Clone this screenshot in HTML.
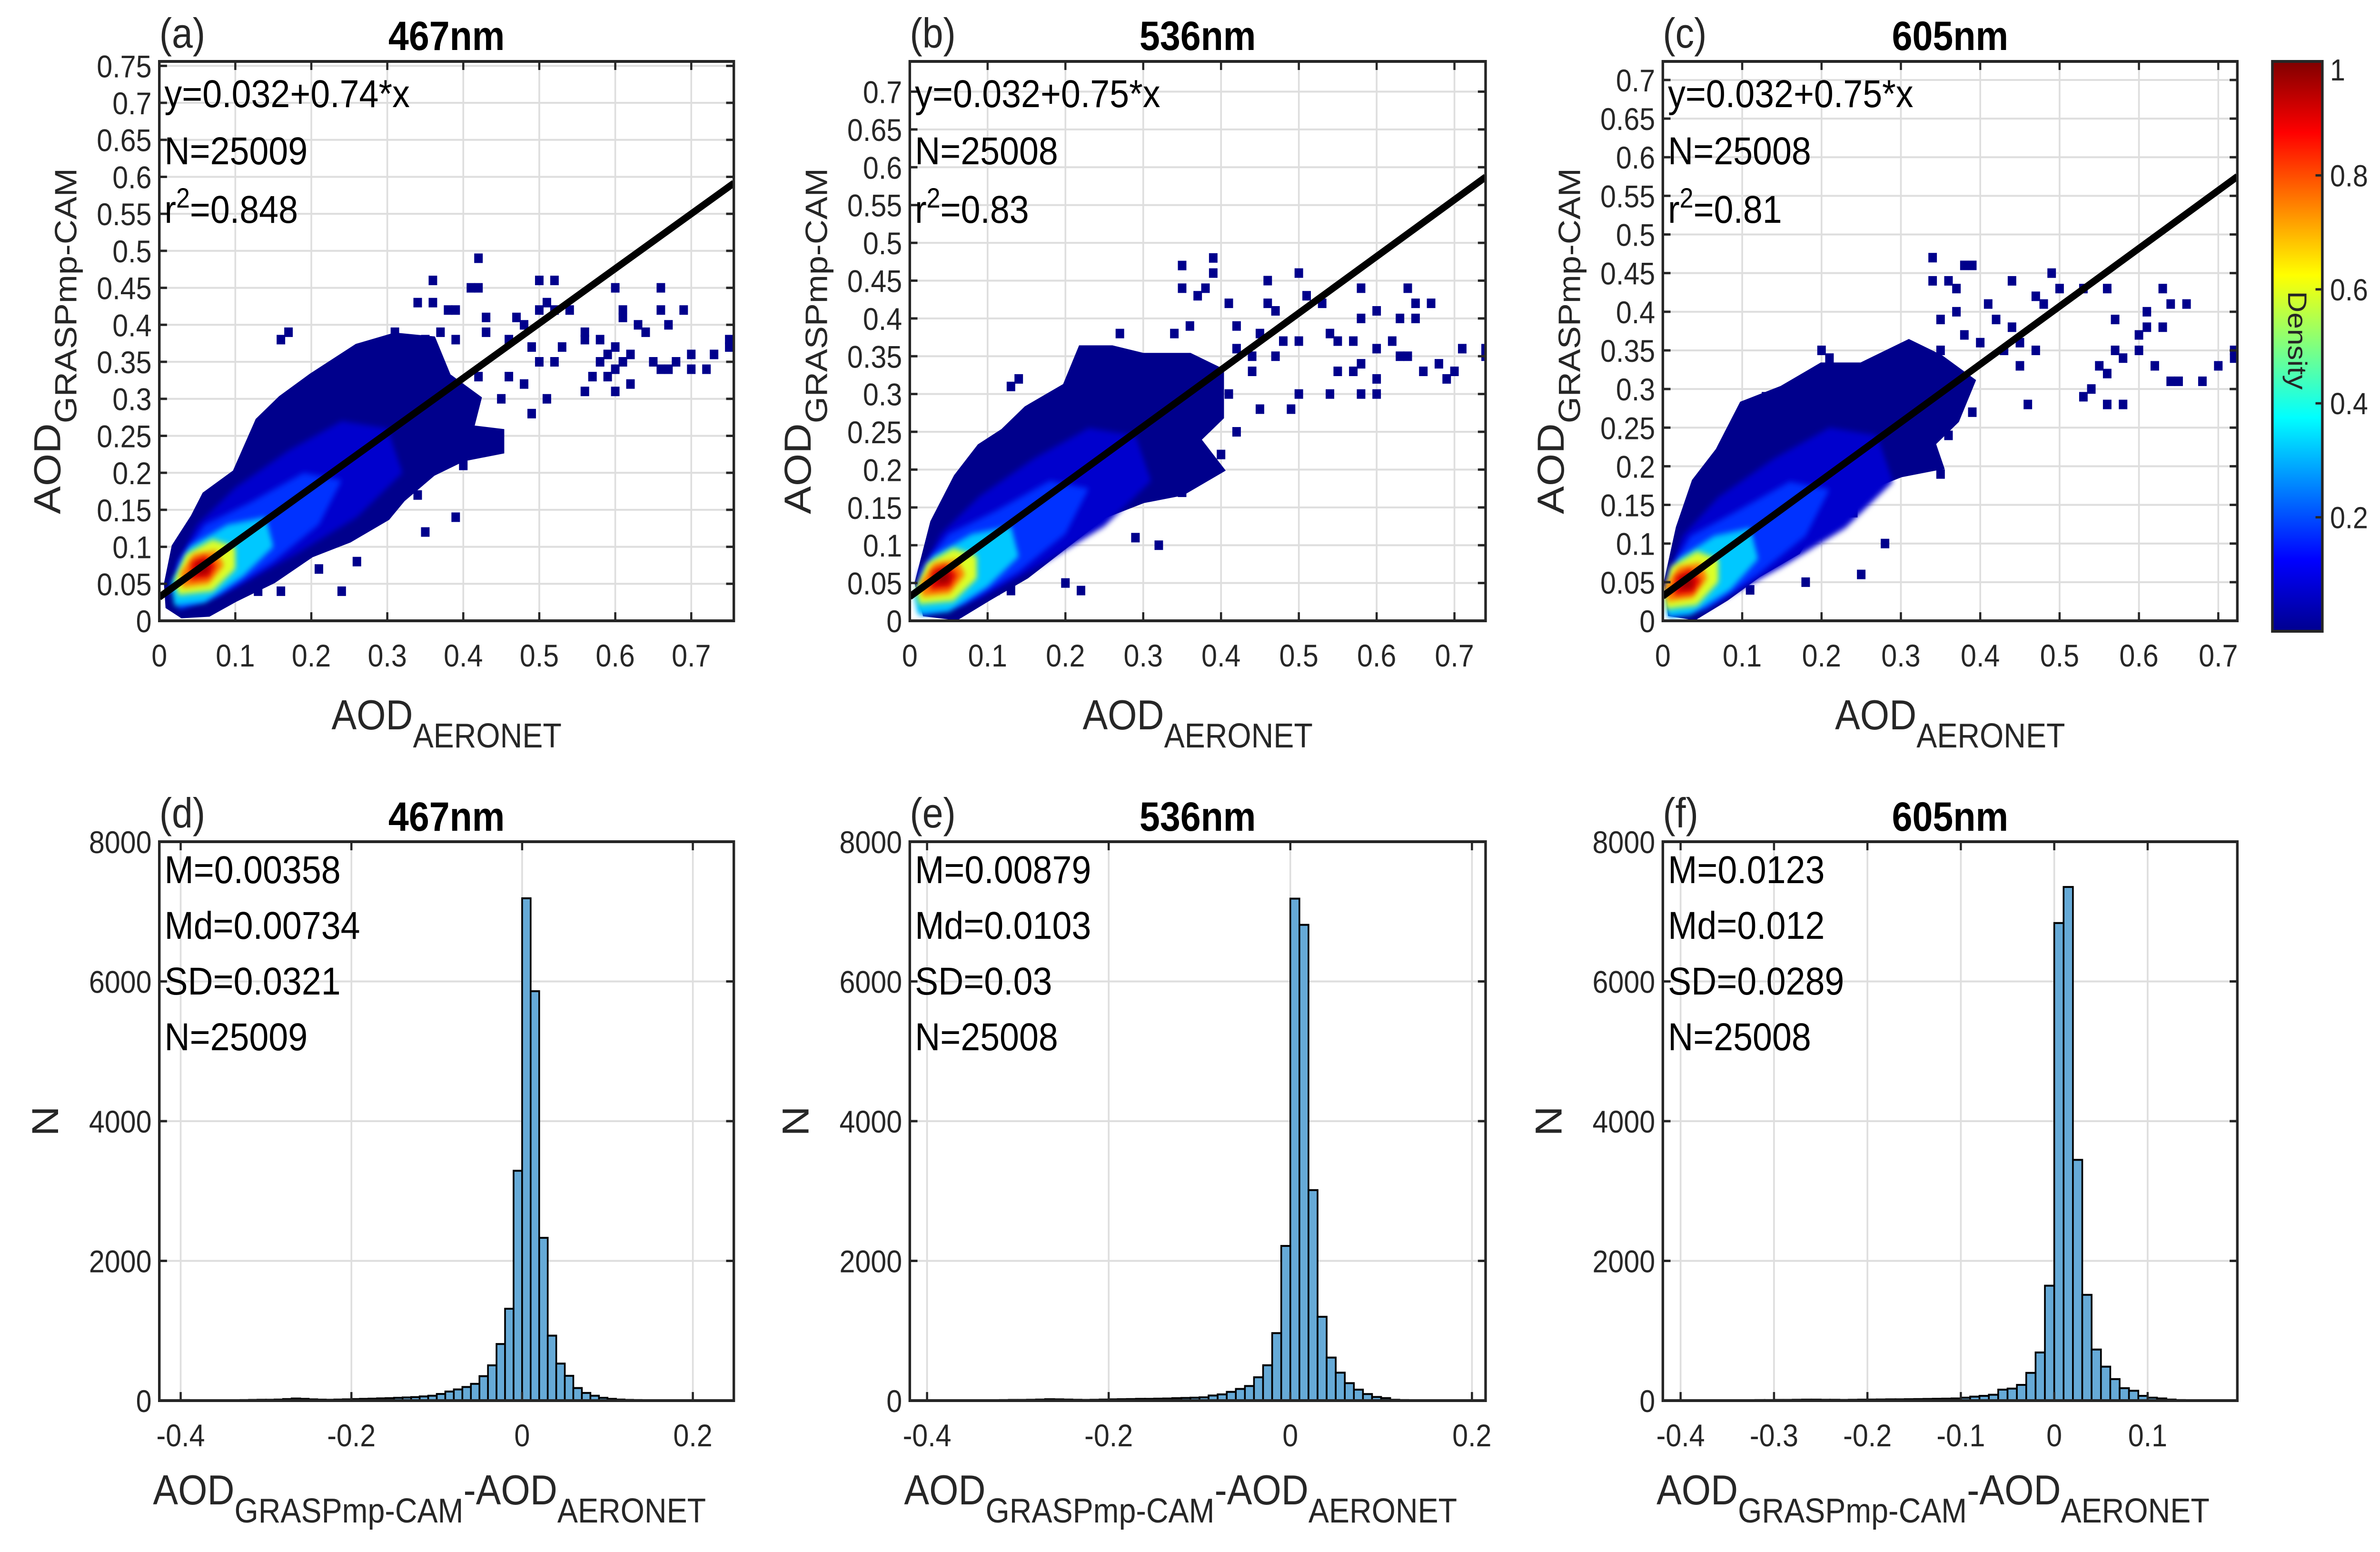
<!DOCTYPE html>
<html><head><meta charset="utf-8"><style>
html,body{margin:0;padding:0;background:#fff;overflow:hidden;width:100%;height:100%;}
svg{display:block;width:100vw;height:100vh;font-family:"Liberation Sans",Arial,sans-serif;}
</style></head><body>
<svg id="fig" xmlns="http://www.w3.org/2000/svg" viewBox="0 0 5572 3260" preserveAspectRatio="none" overflow="hidden">
<defs>
<filter id="soft" x="-20%" y="-20%" width="140%" height="140%"><feGaussianBlur stdDeviation="6"/></filter>
<linearGradient id="jet" x1="0" y1="1" x2="0" y2="0">
<stop offset="0" stop-color="#00008f"/><stop offset="0.125" stop-color="#0000ff"/><stop offset="0.375" stop-color="#00ffff"/><stop offset="0.625" stop-color="#ffff00"/><stop offset="0.875" stop-color="#ff0000"/><stop offset="1" stop-color="#800000"/>
</linearGradient>
</defs>
</svg>
<script>
// ---------- data ----------
const panelLetters = ['(a)','(b)','(c)'];
const histLetters = ['(d)','(e)','(f)'];
const wavelengths = ['467nm','536nm','605nm'];
const fitIntercepts = [0.032,0.032,0.032];
const fitSlopes = [0.74,0.75,0.75];
const fitLabels = ['y=0.032+0.74*x','y=0.032+0.75*x','y=0.032+0.75*x'];
const scatterN = ['N=25009','N=25008','N=25008'];
const r2Values = ['0.848','0.83','0.81'];
const scatterMax = [0.756,0.74,0.724];
const yTicksA = [0,0.05,0.1,0.15,0.2,0.25,0.3,0.35,0.4,0.45,0.5,0.55,0.6,0.65,0.7,0.75];
const yTicksBC = [0,0.05,0.1,0.15,0.2,0.25,0.3,0.35,0.4,0.45,0.5,0.55,0.6,0.65,0.7];
const xTicksScatter = [0,0.1,0.2,0.3,0.4,0.5,0.6,0.7];

// density layers (navy envelope -> dark red core), data units
const layerColors = ['#00008c','#0000cd','#0032ff','#00c8ff','#dcff28','#ff7800','#dc0000','#960000'];
const layersA = [
 [[0.012,0.02],[0.03,0.008],[0.065,0.01],[0.1,0.03],[0.15,0.055],[0.2,0.09],[0.25,0.11],[0.3,0.14],[0.32,0.165],[0.36,0.2],[0.4,0.22],[0.45,0.23],[0.45,0.255],[0.41,0.26],[0.42,0.3],[0.38,0.33],[0.36,0.38],[0.31,0.385],[0.26,0.37],[0.2,0.33],[0.16,0.3],[0.13,0.27],[0.1,0.2],[0.06,0.17],[0.045,0.14],[0.02,0.1],[0.01,0.05]],
 [[0.03,0.02],[0.1,0.045],[0.18,0.09],[0.26,0.14],[0.32,0.2],[0.3,0.26],[0.24,0.27],[0.17,0.23],[0.1,0.18],[0.05,0.13],[0.02,0.07]],
 [[0.025,0.015],[0.08,0.035],[0.15,0.08],[0.21,0.13],[0.24,0.19],[0.19,0.2],[0.12,0.16],[0.06,0.13],[0.025,0.08]],
 [[0.02,0.02],[0.06,0.025],[0.11,0.06],[0.15,0.1],[0.14,0.14],[0.09,0.13],[0.04,0.1],[0.015,0.05]],
 [[0.025,0.035],[0.07,0.04],[0.1,0.07],[0.1,0.1],[0.07,0.11],[0.035,0.09],[0.02,0.055]],
 [[0.03,0.045],[0.065,0.05],[0.085,0.075],[0.075,0.095],[0.045,0.09],[0.028,0.065]],
 [[0.04,0.055],[0.065,0.058],[0.075,0.075],[0.06,0.088],[0.042,0.08]],
 [[0.05,0.063],[0.065,0.066],[0.063,0.08],[0.05,0.078]]
];
const layersB = [
 [[0.02,0.01],[0.06,0.005],[0.1,0.03],[0.15,0.06],[0.2,0.1],[0.25,0.14],[0.3,0.16],[0.35,0.17],[0.4,0.2],[0.37,0.24],[0.4,0.27],[0.4,0.33],[0.36,0.35],[0.3,0.35],[0.26,0.36],[0.22,0.36],[0.2,0.31],[0.15,0.28],[0.12,0.25],[0.09,0.23],[0.06,0.19],[0.03,0.13],[0.01,0.05]],
 [[0.02,0.01],[0.09,0.03],[0.17,0.075],[0.25,0.125],[0.31,0.185],[0.29,0.245],[0.23,0.255],[0.16,0.215],[0.09,0.165],[0.04,0.115],[0.01,0.055]],
 [[0.015,0.008],[0.07,0.022],[0.14,0.065],[0.2,0.115],[0.23,0.175],[0.18,0.185],[0.11,0.145],[0.05,0.115],[0.012,0.065]],
 [[0.01,0.008],[0.05,0.012],[0.1,0.045],[0.14,0.085],[0.13,0.125],[0.08,0.115],[0.03,0.085],[0.005,0.035]],
 [[0.012,0.022],[0.056,0.026],[0.086,0.056],[0.086,0.086],[0.056,0.096],[0.022,0.076],[0.008,0.042]],
 [[0.016,0.032],[0.051,0.036],[0.071,0.061],[0.061,0.081],[0.031,0.076],[0.014,0.051]],
 [[0.026,0.041],[0.051,0.044],[0.061,0.061],[0.046,0.074],[0.028,0.066]],
 [[0.036,0.049],[0.051,0.052],[0.049,0.066],[0.036,0.064]]
];
const layersC = [
 [[0.01,0.01],[0.04,0.005],[0.08,0.03],[0.12,0.06],[0.17,0.09],[0.2,0.14],[0.25,0.17],[0.3,0.19],[0.35,0.2],[0.34,0.23],[0.37,0.26],[0.39,0.31],[0.35,0.34],[0.31,0.36],[0.25,0.33],[0.2,0.33],[0.15,0.3],[0.1,0.28],[0.07,0.22],[0.04,0.18],[0.02,0.12],[0.005,0.05]],
 [[0.01,0.01],[0.07,0.025],[0.15,0.07],[0.23,0.12],[0.29,0.18],[0.27,0.24],[0.21,0.25],[0.14,0.21],[0.07,0.16],[0.025,0.11],[0.005,0.05]],
 [[0.008,0.005],[0.055,0.015],[0.12,0.06],[0.18,0.11],[0.21,0.17],[0.16,0.18],[0.09,0.14],[0.035,0.11],[0.006,0.06]],
 [[0.006,0.005],[0.035,0.008],[0.085,0.04],[0.12,0.08],[0.11,0.12],[0.065,0.11],[0.02,0.08],[0.003,0.03]],
 [[0.004,0.015],[0.043,0.02],[0.07,0.05],[0.07,0.08],[0.043,0.09],[0.01,0.07],[0.002,0.035]],
 [[0.006,0.025],[0.038,0.03],[0.056,0.055],[0.048,0.075],[0.02,0.07],[0.003,0.045]],
 [[0.014,0.033],[0.038,0.036],[0.048,0.053],[0.034,0.067],[0.016,0.058]],
 [[0.023,0.041],[0.038,0.044],[0.036,0.058],[0.023,0.056]]
];
const outliersAx = [0.42,0.36,0.41,0.42,0.5,0.52,0.5,0.51,0.52,0.54,0.36,0.34,0.38,0.39,0.43,0.43,0.39,0.37,0.35,0.31,0.31,0.17,0.16,0.6,0.61,0.61,0.66,0.66,0.69,0.67,0.63,0.64,0.56,0.58,0.6,0.59,0.62,0.61,0.58,0.6,0.57,0.59,0.56,0.62,0.6,0.65,0.66,0.67,0.68,0.7,0.7,0.72,0.73,0.75,0.75,0.47,0.48,0.46,0.49,0.5,0.53,0.52,0.56,0.48,0.49,0.51,0.44,0.42,0.4,0.39,0.35,0.34,0.26,0.24,0.21,0.16,0.13,0.26,0.45,0.42,0.46];
const outliersAy = [0.49,0.46,0.45,0.45,0.46,0.46,0.42,0.43,0.42,0.42,0.43,0.43,0.42,0.42,0.41,0.39,0.38,0.39,0.38,0.39,0.38,0.39,0.38,0.45,0.41,0.42,0.45,0.42,0.42,0.4,0.4,0.39,0.38,0.38,0.37,0.36,0.36,0.35,0.35,0.34,0.33,0.33,0.31,0.32,0.31,0.35,0.34,0.34,0.35,0.36,0.34,0.34,0.36,0.37,0.38,0.41,0.4,0.38,0.37,0.35,0.37,0.35,0.39,0.32,0.28,0.3,0.24,0.24,0.21,0.14,0.12,0.17,0.08,0.04,0.07,0.04,0.04,0.13,0.3,0.33,0.33];
const outliersBx = [0.35,0.39,0.39,0.35,0.38,0.37,0.41,0.46,0.5,0.51,0.53,0.46,0.47,0.58,0.64,0.65,0.6,0.67,0.58,0.63,0.65,0.54,0.55,0.57,0.6,0.62,0.63,0.58,0.55,0.57,0.6,0.54,0.58,0.6,0.64,0.66,0.68,0.7,0.71,0.74,0.74,0.69,0.5,0.49,0.44,0.47,0.42,0.45,0.48,0.5,0.44,0.41,0.42,0.36,0.34,0.27,0.14,0.13,0.2,0.32,0.29,0.11,0.22,0.13,0.18,0.22,0.33,0.35,0.36,0.4,0.42,0.45];
const outliersBy = [0.47,0.48,0.46,0.44,0.44,0.43,0.42,0.45,0.46,0.43,0.42,0.42,0.41,0.44,0.44,0.42,0.41,0.42,0.4,0.4,0.4,0.38,0.37,0.37,0.36,0.37,0.35,0.34,0.33,0.33,0.32,0.3,0.3,0.3,0.35,0.33,0.34,0.33,0.36,0.36,0.35,0.32,0.3,0.28,0.35,0.35,0.39,0.38,0.37,0.37,0.33,0.3,0.36,0.39,0.38,0.38,0.32,0.31,0.05,0.1,0.11,0.04,0.04,0.04,0.11,0.13,0.17,0.17,0.2,0.22,0.25,0.28];
const outliersCx = [0.34,0.38,0.39,0.34,0.36,0.37,0.41,0.44,0.49,0.5,0.53,0.47,0.48,0.56,0.63,0.64,0.66,0.57,0.61,0.63,0.61,0.6,0.57,0.56,0.55,0.58,0.6,0.53,0.56,0.58,0.62,0.64,0.65,0.68,0.7,0.72,0.72,0.54,0.46,0.45,0.47,0.42,0.44,0.43,0.45,0.37,0.35,0.38,0.4,0.35,0.33,0.2,0.21,0.13,0.17,0.24,0.39,0.31,0.25,0.18,0.11,0.06,0.28,0.24,0.35,0.36];
const outliersCy = [0.47,0.46,0.46,0.44,0.44,0.43,0.41,0.44,0.45,0.43,0.43,0.42,0.41,0.43,0.43,0.41,0.41,0.39,0.4,0.38,0.38,0.37,0.35,0.32,0.33,0.34,0.35,0.29,0.28,0.28,0.33,0.31,0.31,0.31,0.33,0.35,0.34,0.3,0.28,0.36,0.35,0.39,0.38,0.35,0.33,0.4,0.39,0.37,0.36,0.35,0.34,0.35,0.34,0.29,0.29,0.27,0.27,0.28,0.06,0.05,0.04,0.03,0.1,0.14,0.19,0.24];

// histograms: bins of width 0.01 starting at -0.40
const histStart = -0.40;
const histBinWidth = 0.01;
const countsD = [8,6,5,4,5,6,5,8,10,12,12,15,22,30,25,18,14,12,15,18,22,25,28,32,35,40,45,50,60,70,95,130,160,195,240,350,505,810,1315,3290,7190,5860,2330,930,530,355,180,110,70,40,25,15,10,8,5,4,3,3,2,2,2,2,3];
const countsE = [6,5,4,4,5,5,6,6,8,10,10,12,15,20,18,15,12,10,12,15,18,20,22,25,25,28,30,35,38,42,47,73,89,125,167,209,334,506,966,2214,7185,6810,3013,1200,616,400,250,157,94,52,36,12,8,6,5,4,3,3,2,2];
const countsF = [5,4,4,4,5,5,6,6,8,8,10,10,12,14,14,12,12,10,12,14,15,16,18,18,20,22,24,26,28,31,42,57,68,84,157,172,225,397,689,1645,6836,7352,3446,1514,731,486,308,178,141,68,42,31,15,8,5,3,3,2,2];
const histM = ['M=0.00358','M=0.00879','M=0.0123'];
const histMd = ['Md=0.00734','Md=0.0103','Md=0.012'];
const histSD = ['SD=0.0321','SD=0.03','SD=0.0289'];
const histN = ['N=25009','N=25008','N=25008'];
const histXmin = [-0.425,-0.419,-0.419];
const histXmax = [0.248,0.215,0.196];
const histXTicksDE = [-0.4,-0.2,0,0.2];
const histXTicksF = [-0.4,-0.3,-0.2,-0.1,0,0.1];
const histYTicks = [0,2000,4000,6000,8000];
const cbTicks = [0.2,0.4,0.6,0.8,1];

// ---------- drawing ----------
const NS = 'http://www.w3.org/2000/svg';
const svg = document.getElementById('fig');
function mk(tag, parent, attrs){
  const el = document.createElementNS(NS, tag);
  for (const k in attrs) el.setAttribute(k, attrs[k]);
  parent.appendChild(el);
  return el;
}
function fmt(v){ return String(+v.toFixed(3)); }

const colsL = [373,2130,3893], colsR = [1718,3478,5238];
const sT = 129, sB = 1304, hT = 1768, hB = 2942;
const TXT = '#262626';

function frame(g, L, R, T, B, xt, yt, sx, sy, nameBase){
  xt.forEach(v => {
    const x = sx(v);
    const gl = mk('line', g, {x1:x, x2:x, y1:T, y2:B, stroke:'#dedede', 'stroke-width':4});
    
    
  });
  yt.forEach(v => {
    const y = sy(v);
    const gl = mk('line', g, {x1:L, x2:R, y1:y, y2:y, stroke:'#dedede', 'stroke-width':4});
    
    
  });
}
function axesBox(g, L, R, T, B, xt, yt, sx, sy, xlabels, ylabels, nameBase){
  const tl = 18;
  xt.forEach((v,i) => {
    const x = sx(v);
    mk('line', g, {x1:x, x2:x, y1:B, y2:B-tl, stroke:TXT, 'stroke-width':5});
    mk('line', g, {x1:x, x2:x, y1:T, y2:T+tl, stroke:TXT, 'stroke-width':5});
    const t = mk('text', g, {x:x, y:B+96, 'font-size':66, fill:TXT, 'text-anchor':'middle'});
    t.textContent = xlabels[i];
    
    
  });
  yt.forEach((v,i) => {
    const y = sy(v);
    mk('line', g, {x1:L, x2:L+tl, y1:y, y2:y, stroke:TXT, 'stroke-width':5});
    mk('line', g, {x1:R, x2:R-tl, y1:y, y2:y, stroke:TXT, 'stroke-width':5});
    const t = mk('text', g, {x:L-18, y:y+24, 'font-size':66, fill:TXT, 'text-anchor':'end'});
    t.textContent = ylabels[i];
    
    
  });
  const box = mk('rect', g, {x:L, y:T, width:R-L, height:B-T, fill:'none', stroke:TXT, 'stroke-width':6});
  
  
}
function label(g, x, y, size, str, name, extra){
  const t = mk('text', g, Object.assign({x:x, y:y, 'font-size':size, fill:'#000'}, extra||{}));
  t.textContent = str;
  
  
  return t;
}

const layerSets = [layersA, layersB, layersC];
const outX = [outliersAx, outliersBx, outliersCx];
const outY = [outliersAy, outliersBy, outliersCy];

for (let p = 0; p < 3; p++){
  const L = colsL[p], R = colsR[p], T = sT, B = sB, m = scatterMax[p];
  const sx = v => L + v / m * (R - L);
  const sy = v => B - v / m * (B - T);
  const g = mk('g', svg, {});
  
  
  const yt = p === 0 ? yTicksA : yTicksBC;
  frame(g, L, R, T, B, xTicksScatter, yt, sx, sy, 'scatter-' + 'abc'[p]);
  const clipId = 'clip' + p;
  const cp = mk('clipPath', g, {id:clipId});
  mk('rect', cp, {x:L, y:T, width:R-L, height:B-T});
  const plot = mk('g', g, {'clip-path':'url(#' + clipId + ')'});
  for (let i = 0; i < outX[p].length; i++){
    const s = mk('rect', plot, {x:sx(outX[p][i]) - 10, y:sy(outY[p][i]) - 10, width:20, height:20, fill:'#00008c'});
    
    
  }
  layerSets[p].forEach((poly, li) => {
    const pts = poly.map(q => sx(q[0]).toFixed(1) + ',' + sy(q[1]).toFixed(1)).join(' ');
    const attrs = {points:pts, fill:layerColors[li]};
    if (li > 0) attrs.filter = 'url(#soft)';
    else { attrs.stroke = '#00008c'; attrs['stroke-width'] = 14; attrs['stroke-linejoin'] = 'miter'; }
    const pg = mk('polygon', plot, attrs);
    
    
  });
  const a = fitIntercepts[p], b = fitSlopes[p];
  const ln = mk('line', plot, {x1:sx(0), y1:sy(a), x2:sx(m), y2:sy(a + b*m), stroke:'#000', 'stroke-width':15});
  
  
  axesBox(g, L, R, T, B, xTicksScatter, yt, sx, sy, xTicksScatter.map(fmt), yt.map(fmt), 'scatter-' + 'abc'[p]);
  label(g, L, 100, 88, panelLetters[p], 'panel-letter', {fill:TXT});
  label(g, (L+R)/2, 105, 86, wavelengths[p], 'panel-title', {'text-anchor':'middle', 'font-weight':'bold'});
  label(g, L+12, 225, 82, fitLabels[p], 'fit-equation');
  label(g, L+12, 345, 82, scatterN[p], 'sample-count');
  const r2 = label(g, L+12, 468, 82, '', 'r-squared');
  r2.innerHTML = 'r<tspan dy="-32" font-size="58">2</tspan><tspan dy="32">=' + r2Values[p] + '</tspan>';
  const xl = label(g, (L+R)/2, 1532, 88, '', 'x-axis-title', {'text-anchor':'middle', fill:TXT});
  xl.innerHTML = 'AOD<tspan dy="38" font-size="72">AERONET</tspan>';
  const yl = label(g, 0, 0, 88, '', 'y-axis-title', {'text-anchor':'middle', fill:TXT, transform:'translate(' + (L-232) + ',' + ((T+B)/2) + ') rotate(-90)'});
  yl.innerHTML = 'AOD<tspan dy="38" font-size="72">GRASPmp-CAM</tspan>';
}

// colorbar
{
  const g = mk('g', svg, {});
  
  
  const cL = 5320, cR = 5437, cT = 129, cB = 1326;
  const cy = v => cB - v * (cB - cT);
  mk('rect', g, {x:cL, y:cT, width:cR-cL, height:cB-cT, fill:'url(#jet)', stroke:TXT, 'stroke-width':6});
  cbTicks.forEach(v => {
    mk('line', g, {x1:cR, x2:cR-16, y1:cy(v), y2:cy(v), stroke:TXT, 'stroke-width':5});
    const t = mk('text', g, {x:cR+18, y:cy(v)+ (v===1 ? 40 : 23), 'font-size':64, fill:TXT});
    t.textContent = fmt(v);
    
    
  });
  label(g, 0, 0, 62, 'Density', 'colorbar-title', {'text-anchor':'middle', fill:'#262626', transform:'translate(5357,715) rotate(90)'});
}

// histograms
const countSets = [countsD, countsE, countsF];
for (let p = 0; p < 3; p++){
  const L = colsL[p], R = colsR[p], T = hT, B = hB;
  const x0 = histXmin[p], x1 = histXmax[p];
  const sx = v => L + (v - x0) / (x1 - x0) * (R - L);
  const sy = v => B - v / 8000 * (B - T);
  const xt = p === 2 ? histXTicksF : histXTicksDE;
  const g = mk('g', svg, {});
  
  
  frame(g, L, R, T, B, xt, histYTicks, sx, sy, 'hist-' + 'def'[p]);
  countSets[p].forEach((c, i) => {
    const e0 = histStart + i * histBinWidth, e1 = e0 + histBinWidth;
    const r = mk('rect', g, {x:sx(e0), y:sy(c), width:sx(e1)-sx(e0), height:B - sy(c), fill:'#66aad7', stroke:'#000', 'stroke-width':4});
    
    
  });
  axesBox(g, L, R, T, B, xt, histYTicks, sx, sy, xt.map(fmt), histYTicks.map(String), 'hist-' + 'def'[p]);
  label(g, L, 1738, 88, histLetters[p], 'panel-letter', {fill:TXT});
  label(g, (L+R)/2, 1745, 86, wavelengths[p], 'panel-title', {'text-anchor':'middle', 'font-weight':'bold'});
  label(g, L+12, 1855, 82, histM[p], 'mean-label');
  label(g, L+12, 1972, 82, histMd[p], 'median-label');
  label(g, L+12, 2089, 82, histSD[p], 'sd-label');
  label(g, L+12, 2206, 82, histN[p], 'count-label');
  const xl = label(g, (L+R)/2 - 40, 3160, 88, '', 'x-axis-title', {'text-anchor':'middle', fill:TXT});
  xl.innerHTML = 'AOD<tspan dy="38" font-size="72">GRASPmp-CAM</tspan><tspan dy="-38">-AOD</tspan><tspan dy="38" font-size="72">AERONET</tspan>';
  label(g, 0, 0, 88, 'N', 'y-axis-title', {'text-anchor':'middle', fill:TXT, transform:'translate(' + (L-237) + ',' + ((T+B)/2) + ') rotate(-90)'});
}
</script>
</body></html>
